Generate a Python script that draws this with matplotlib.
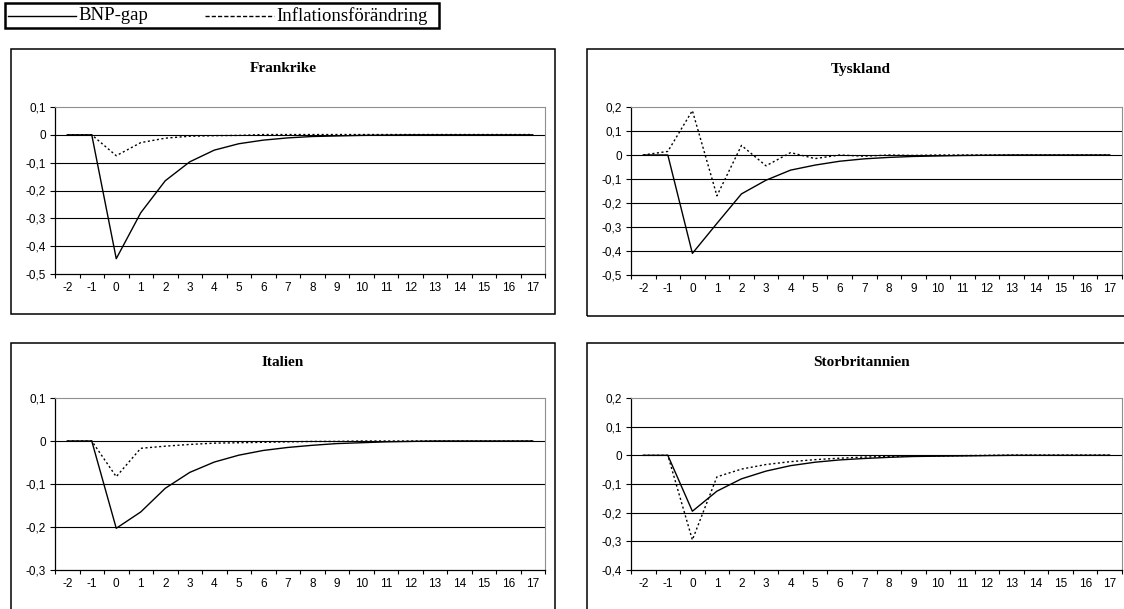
import matplotlib.pyplot as plt
import numpy as np
from matplotlib.patches import Rectangle
from matplotlib.lines import Line2D

# periods on the category axis
periods = list(range(-2, 18))

titles = ["Frankrike", "Tyskland", "Italien", "Storbritannien"]

bnp_frankrike = [0, 0, -0.445, -0.28, -0.165, -0.097, -0.055, -0.032, -0.019, -0.011,
                 -0.006, -0.004, -0.002, -0.001, 0, 0, 0, 0, 0, 0]
infl_frankrike = [0, 0, -0.075, -0.028, -0.012, -0.005, -0.003, -0.002, 0.001, 0.001,
                  0.001, 0.001, 0.001, 0.001, 0.001, 0.001, 0.001, 0.001, 0.001, 0.001]

bnp_tyskland = [0, 0, -0.41, -0.285, -0.162, -0.105, -0.063, -0.042, -0.026, -0.016,
                -0.01, -0.006, -0.004, -0.002, -0.001, 0, 0, 0, 0, 0]
infl_tyskland = [0, 0.015, 0.185, -0.17, 0.04, -0.045, 0.01, -0.015, 0.0, -0.005,
                 0.0, -0.002, 0, 0, 0, 0, 0, 0, 0, 0]

bnp_italien = [0, 0, -0.203, -0.165, -0.11, -0.073, -0.049, -0.033, -0.022, -0.015,
               -0.01, -0.006, -0.004, -0.002, -0.001, 0, 0, 0, 0, 0]
infl_italien = [0, 0, -0.083, -0.017, -0.012, -0.008, -0.005, -0.004, -0.003, -0.002,
                -0.001, -0.001, 0, 0, 0, 0, 0, 0, 0, 0]

bnp_storbritannien = [0, 0, -0.195, -0.125, -0.082, -0.055, -0.036, -0.024, -0.016, -0.011,
                      -0.007, -0.004, -0.003, -0.002, -0.001, 0, 0, 0, 0, 0]
infl_storbritannien = [0, 0, -0.295, -0.075, -0.048, -0.032, -0.022, -0.015, -0.01, -0.006,
                       -0.004, -0.003, -0.002, -0.001, 0, 0.001, 0.001, 0.001, 0.001, 0.001]

yticks_frankrike = [0.1, 0, -0.1, -0.2, -0.3, -0.4, -0.5]
yticks_tyskland = [0.2, 0.1, 0, -0.1, -0.2, -0.3, -0.4, -0.5]
yticks_italien = [0.1, 0, -0.1, -0.2, -0.3]
yticks_storbritannien = [0.2, 0.1, 0, -0.1, -0.2, -0.3, -0.4]

W, H = 1124, 609
fig = plt.figure(figsize=(W / 100, H / 100), dpi=100)


def frac(x0, y0, x1, y1):
    # pixel box (top-left origin) -> figure fraction [l, b, w, h]
    return [x0 / W, 1 - y1 / H, (x1 - x0) / W, (y1 - y0) / H]


def fmt(v):
    if abs(v) < 1e-9:
        return "0"
    return f"{v:.1f}".replace(".", ",")


panels = [
    (titles[0], bnp_frankrike, infl_frankrike, yticks_frankrike, (55, 107, 545, 274), (11, 49, 555, 314)),
    (titles[1], bnp_tyskland, infl_tyskland, yticks_tyskland, (631, 107, 1122, 275), (587, 49, 1135, 316)),
    (titles[2], bnp_italien, infl_italien, yticks_italien, (55, 398, 545, 570), (11, 343, 555, 620)),
    (titles[3], bnp_storbritannien, infl_storbritannien, yticks_storbritannien, (631, 398, 1122, 570), (587, 343, 1135, 620)),
]

sans = "Liberation Sans"
serif = "Liberation Serif"
x = np.arange(len(periods))

for title, bnp, infl, yt, pbox, obox in panels:
    # outer chart frame
    fig.add_artist(Rectangle((obox[0] / W, 1 - obox[3] / H), (obox[2] - obox[0]) / W,
                             (obox[3] - obox[1]) / H, transform=fig.transFigure,
                             fill=False, edgecolor="black", lw=1.1))
    fig.text((obox[0] + obox[2]) / 2 / W, 1 - (obox[1] + 20) / H, title,
             ha="center", va="center", fontsize=11, fontweight="bold", family=serif)

    ax = fig.add_axes(frac(*pbox))
    for v in yt[1:-1]:
        ax.axhline(v, color="black", lw=0.8, zorder=1)
    ax.plot(x, bnp, color="black", lw=1.0, zorder=3)
    ax.plot(x, infl, color="black", lw=1.0, linestyle=(0, (1.5, 1.8)), zorder=3)

    ax.set_xlim(-0.5, len(periods) - 0.5)
    ax.set_ylim(min(yt), max(yt))
    ax.set_yticks(yt)
    ax.set_yticklabels([fmt(v) for v in yt], fontsize=8.5, family=sans)
    ax.set_xticks(np.arange(-0.5, len(periods), 1))
    ax.set_xticklabels([])
    ax.set_xticks(x, minor=True)
    ax.set_xticklabels([str(p) for p in periods], minor=True, fontsize=8.5, family=sans)
    ax.tick_params(axis="y", length=3.6, width=0.8, pad=3)
    ax.tick_params(axis="x", which="major", length=2.9, width=0.8)
    ax.tick_params(axis="x", which="minor", length=0, pad=6)
    ax.spines["top"].set_color("#909090")
    ax.spines["right"].set_color("#909090")
    ax.spines["left"].set_linewidth(0.9)
    ax.spines["bottom"].set_linewidth(0.9)
    ax.patch.set_alpha(0)

# legend box at the top
fig.add_artist(Rectangle((5 / W, 1 - 28 / H), 434 / W, 25 / H, transform=fig.transFigure,
                         fill=False, edgecolor="black", lw=1.8))
ly = 1 - 16 / H
fig.add_artist(Line2D([8 / W, 76 / W], [ly, ly], transform=fig.transFigure, color="black", lw=1.0))
fig.text(78 / W, ly, "BNP-gap", ha="left", va="center", fontsize=13.5, family=serif)
fig.add_artist(Line2D([205 / W, 274 / W], [ly, ly], transform=fig.transFigure, color="black",
                      lw=1.0, linestyle=(0, (3, 1.5))))
fig.text(276 / W, ly, "Inflationsförändring", ha="left", va="center", fontsize=13.5, family=serif)

fig.savefig("out.png", dpi=100)
